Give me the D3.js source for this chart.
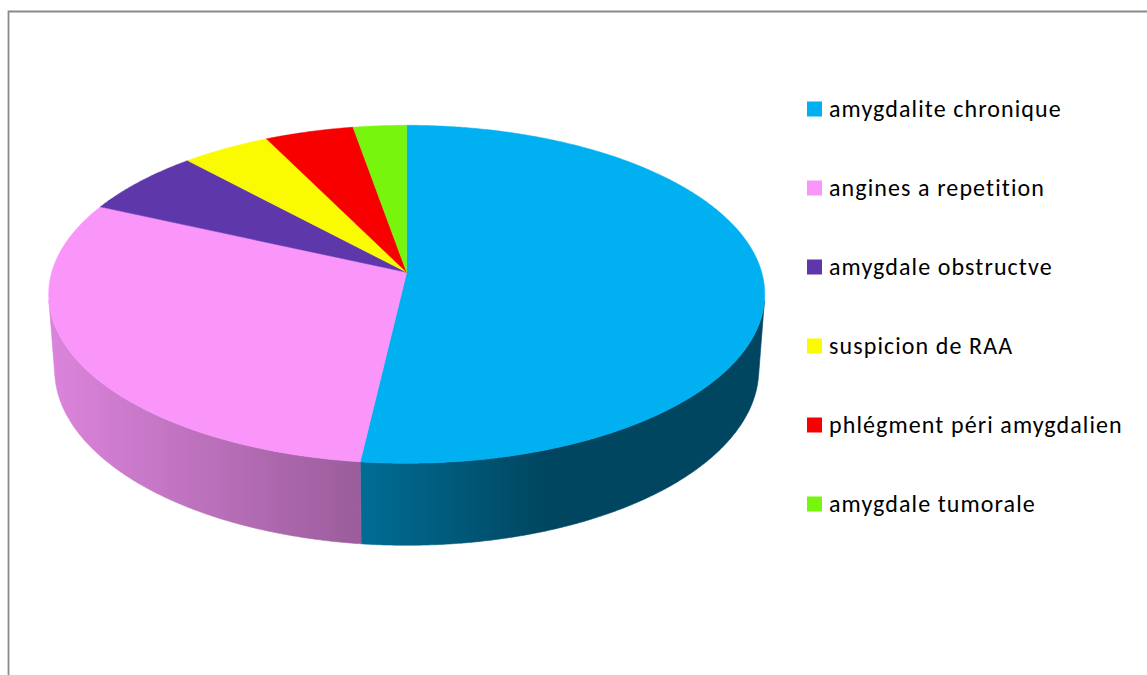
<!DOCTYPE html>
<html>
<head>
<meta charset="utf-8">
<script src="https://cdn.jsdelivr.net/npm/d3@7"></script>
<style>
  html, body { margin: 0; padding: 0; background: #ffffff; }
  svg { display: block; }
</style>
</head>
<body>
<svg id="chart" width="1147" height="675"></svg>
<script>
// Indications de l'amygdalectomie (effectifs)
const categories = [
  "amygdalite chronique",
  "angines a repetition",
  "amygdale obstructve",
  "suspicion de RAA",
  "phlégment péri amygdalien",
  "amygdale tumorale"
];
const counts = [57, 33, 7, 5, 5, 3];
const colors = ["#00B0F0", "#FA96FA", "#5E37AB", "#FAFA00", "#F90000", "#78F50C"];

const svg = d3.select("#chart");

// Chart area frame (top and left edges visible)
svg.append("path")
  .attr("d", "M8.5,675 V11.5 H1147")
  .attr("fill", "none")
  .attr("stroke", "#8a8a8a")
  .attr("stroke-width", 1.8);

// 3D perspective camera for the pie (unit radius disc, top face at Y=0)
const cx = 406.7, cy = 272.3;
const tilt = 27.9 * Math.PI / 180;
const sA = Math.sin(tilt), cA = Math.cos(tilt);
const dist = 6.8;
const focal = 355 * dist;
const thick = 0.242;

function project(theta, Y, r = 1) {
  const X = r * Math.sin(theta), Z = -r * Math.cos(theta);
  const d = dist - (Y * sA + Z * cA);
  return [cx + focal * X / d, cy - focal * (Y * cA - Z * sA) / d];
}

const pie = d3.pie().sort(null).value(d => d).startAngle(0).endAngle(2 * Math.PI);
const arcs = pie(counts);

const line = d3.line();
function arcPoints(a0, a1, Y) {
  const n = Math.max(2, Math.ceil((a1 - a0) / (0.4 * Math.PI / 180)));
  return d3.range(n + 1).map(i => project(a0 + (a1 - a0) * i / n, Y));
}

// Shading of the outer wall, darker towards the right
const defs = svg.append("defs");
const xL = cx - 358, xR = cx + 358;
const shade = [[0, 0.88], [0.436, 0.62], [0.694, 0.40], [1, 0.40]];
colors.forEach((col, i) => {
  const base = d3.rgb(col);
  const g = defs.append("linearGradient")
    .attr("id", "wall" + i)
    .attr("gradientUnits", "userSpaceOnUse")
    .attr("x1", xL).attr("x2", xR).attr("y1", 0).attr("y2", 0);
  shade.forEach(([o, k]) => {
    g.append("stop").attr("offset", o)
      .attr("stop-color", d3.rgb(base.r * k, base.g * k, base.b * k).formatHex());
  });
});

// Front-facing range of the cylinder wall
const lim = Math.acos(-1 / (dist * cA));
const front0 = lim, front1 = 2 * Math.PI - lim;

const walls = svg.append("g");
arcs.forEach((a, i) => {
  const w0 = Math.max(a.startAngle, front0), w1 = Math.min(a.endAngle, front1);
  if (w1 <= w0) return;
  const pts = arcPoints(w0, w1, 0).concat(arcPoints(w0, w1, -thick).reverse());
  walls.append("path")
    .attr("d", line(pts) + "Z")
    .attr("fill", `url(#wall${i})`)
    .attr("stroke", `url(#wall${i})`)
    .attr("stroke-width", 0.6);
});

const tops = svg.append("g");
arcs.forEach((a, i) => {
  const pts = [[cx, cy]].concat(arcPoints(a.startAngle, a.endAngle, 0));
  tops.append("path")
    .attr("d", line(pts) + "Z")
    .attr("fill", colors[i])
    .attr("stroke", colors[i])
    .attr("stroke-width", 0.5);
});

// Legend
const legendY = d3.scalePoint().domain(categories).range([109, 504]);
const legend = svg.append("g");
categories.forEach((name, i) => {
  const y = legendY(name);
  legend.append("rect")
    .attr("x", 807).attr("y", y - 7.5)
    .attr("width", 15).attr("height", 15)
    .attr("fill", colors[i]);
  legend.append("text")
    .attr("x", 829).attr("y", y + 8)
    .attr("font-family", "Carlito, Calibri, Lato, 'Open Sans', sans-serif")
    .attr("font-size", 24)
    .attr("letter-spacing", 1.1)
    .attr("fill", "#000")
    .text(name);
});
</script>
</body>
</html>
